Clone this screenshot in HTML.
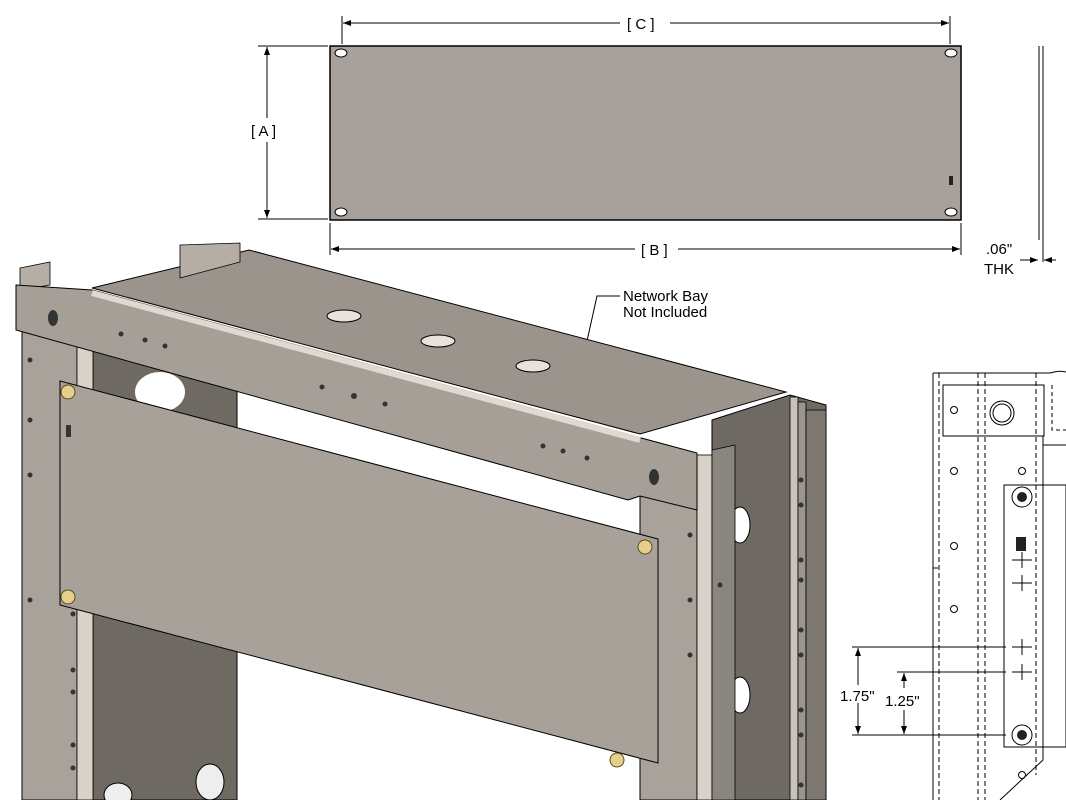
<!DOCTYPE html>
<html><head><meta charset="utf-8"><style>
html,body{margin:0;padding:0;background:#fff;}
svg{display:block;font-family:"Liberation Sans",sans-serif;}
</style></head><body>
<svg width="1066" height="800" viewBox="0 0 1066 800" xmlns="http://www.w3.org/2000/svg">
<defs>
<marker id="ar" markerWidth="8" markerHeight="6" refX="8" refY="3" orient="auto"><path d="M0,0 L8,3 L0,6 z" fill="#000"/></marker>
</defs>
<!-- top flat panel -->
<rect x="330" y="46" width="631" height="174" fill="#a8a09a" stroke="#000" stroke-width="1.5"/>
<g fill="#fff" stroke="#000" stroke-width="1">
<ellipse cx="341" cy="53" rx="6" ry="4"/><ellipse cx="951" cy="53" rx="6" ry="4"/>
<ellipse cx="341" cy="212" rx="6" ry="4"/><ellipse cx="951" cy="212" rx="6" ry="4"/>
</g>
<rect x="949" y="176" width="4" height="9" fill="#222"/>
<!-- dims -->
<g stroke="#000" stroke-width="1" fill="none">
<line x1="342" y1="16" x2="342" y2="44"/><line x1="950" y1="16" x2="950" y2="44"/>
<line x1="620" y1="23" x2="343" y2="23" marker-end="url(#ar)"/><line x1="670" y1="23" x2="949" y2="23" marker-end="url(#ar)"/>
<line x1="258" y1="46" x2="328" y2="46"/><line x1="258" y1="219" x2="328" y2="219"/>
<line x1="267" y1="118" x2="267" y2="47" marker-end="url(#ar)"/><line x1="267" y1="142" x2="267" y2="218" marker-end="url(#ar)"/>
<line x1="330" y1="223" x2="330" y2="255"/><line x1="961" y1="223" x2="961" y2="255"/>
<line x1="635" y1="249" x2="331" y2="249" marker-end="url(#ar)"/><line x1="678" y1="249" x2="960" y2="249" marker-end="url(#ar)"/>
<line x1="1039" y1="46" x2="1039" y2="240"/><line x1="1043" y1="46" x2="1043" y2="262"/>
<line x1="1020" y1="260" x2="1038" y2="260" marker-end="url(#ar)"/><line x1="1056" y1="260" x2="1044" y2="260" marker-end="url(#ar)"/>
</g>
<g font-size="15" fill="#000">
<text x="627" y="29">[ C ]</text>
<text x="251" y="136">[ A ]</text>
<text x="641" y="255">[ B ]</text>
<text x="986" y="254">.06"</text>
<text x="984" y="274">THK</text>
<text x="623" y="301">Network Bay</text>
<text x="623" y="317">Not Included</text>
</g>
<polyline points="620,296 597,296 585,350" fill="none" stroke="#000"/>
<!-- rack: right side dark panel -->
<polygon points="712,420 790,395 826,405 826,800 712,800" fill="#6e6a63" stroke="#000"/>
<rect x="790" y="397" width="8" height="403" fill="#c9c3ba" stroke="#000" stroke-width="0.8"/>
<rect x="798" y="402" width="8" height="398" fill="#9b958d" stroke="#000" stroke-width="0.8"/>
<rect x="806" y="410" width="20" height="390" fill="#7c776f" stroke="#000" stroke-width="0.8"/>
<ellipse cx="740" cy="525" rx="10" ry="18" fill="#fff" stroke="#000"/>
<ellipse cx="740" cy="695" rx="10" ry="18" fill="#fff" stroke="#000"/>
<!-- left interior dark -->
<polygon points="93,340 237,380 237,800 93,800" fill="#6e6a63" stroke="#000"/>
<ellipse cx="160" cy="392" rx="25" ry="20" fill="#fff"/>
<ellipse cx="210" cy="782" rx="14" ry="18" fill="#eee" stroke="#000"/>
<ellipse cx="118" cy="795" rx="14" ry="12" fill="#eee" stroke="#000"/>
<!-- left post -->
<rect x="22" y="325" width="55" height="475" fill="#a8a29b" stroke="#000"/>
<rect x="77" y="325" width="16" height="475" fill="#d9d2c8" stroke="#000" stroke-width="0.8"/>
<!-- right post -->
<rect x="640" y="480" width="57" height="320" fill="#a8a29b" stroke="#000"/>
<rect x="697" y="455" width="15" height="345" fill="#d9d2c8" stroke="#000" stroke-width="0.8"/>
<polygon points="712,450 735,445 735,800 712,800" fill="#8a857e" stroke="#000" stroke-width="0.8"/>
<!-- top plate -->
<polygon points="92,288 249,250 786,392 640,434" fill="#9b948d" stroke="#000"/>
<polygon points="180,245 240,243 240,262 180,278" fill="#b5aea5" stroke="#000" stroke-width="0.8"/>
<polygon points="20,268 50,262 50,285 20,290" fill="#b5aea5" stroke="#000" stroke-width="0.8"/>
<g fill="#e8e2da" stroke="#000"><ellipse cx="344" cy="316" rx="17" ry="6"/><ellipse cx="438" cy="341" rx="17" ry="6"/><ellipse cx="533" cy="366" rx="17" ry="6"/></g>
<!-- top beam -->
<polygon points="16,285 92,290 697,453 697,510 640,496 628,500 16,330" fill="#a59f97" stroke="#000"/>
<line x1="92" y1="293" x2="640" y2="440" stroke="#e0d9cf" stroke-width="6"/>
<g fill="#333"><ellipse cx="53" cy="318" rx="5" ry="8"/><ellipse cx="654" cy="477" rx="5" ry="8"/>
<circle cx="121" cy="334" r="2.5"/><circle cx="145" cy="340" r="2.5"/><circle cx="165" cy="346" r="2.5"/>
<circle cx="322" cy="387" r="2.5"/><circle cx="354" cy="396" r="3"/><circle cx="385" cy="404" r="2.5"/>
<circle cx="543" cy="446" r="2.5"/><circle cx="563" cy="451" r="2.5"/><circle cx="587" cy="458" r="2.5"/></g>
<!-- post holes -->
<g fill="#333">
<circle cx="30" cy="360" r="2.5"/><circle cx="30" cy="420" r="2.5"/><circle cx="30" cy="475" r="2.5"/><circle cx="30" cy="600" r="2.5"/>
<circle cx="73" cy="614" r="2.5"/><circle cx="73" cy="670" r="2.5"/><circle cx="73" cy="692" r="2.5"/><circle cx="73" cy="745" r="2.5"/><circle cx="73" cy="768" r="2.5"/>
<circle cx="690" cy="535" r="2.5"/><circle cx="690" cy="600" r="2.5"/><circle cx="690" cy="655" r="2.5"/><circle cx="720" cy="585" r="2.5"/>
<circle cx="801" cy="480" r="2.5"/><circle cx="801" cy="505" r="2.5"/><circle cx="801" cy="560" r="2.5"/><circle cx="801" cy="580" r="2.5"/><circle cx="801" cy="630" r="2.5"/><circle cx="801" cy="655" r="2.5"/><circle cx="801" cy="710" r="2.5"/><circle cx="801" cy="735" r="2.5"/><circle cx="801" cy="785" r="2.5"/>
</g>
<!-- front panel -->
<polygon points="60,381 658,539 658,763 60,605" fill="#a8a199" stroke="#000"/>
<rect x="66" y="425" width="5" height="12" fill="#333"/>
<g fill="#e6cf8a" stroke="#5a4a20" stroke-width="1">
<circle cx="68" cy="392" r="7"/><circle cx="68" cy="597" r="7"/><circle cx="645" cy="547" r="7"/><circle cx="617" cy="760" r="7"/>
</g>
<!-- right detail drawing -->
<g stroke="#000" stroke-width="1" fill="none">
<line x1="933" y1="373" x2="933" y2="800"/>
<line x1="939" y1="373" x2="939" y2="800" stroke-dasharray="5,3"/>
<line x1="978" y1="373" x2="978" y2="800" stroke-dasharray="5,3"/>
<line x1="985" y1="373" x2="985" y2="800" stroke-dasharray="5,3"/>
<line x1="1036" y1="373" x2="1036" y2="775" stroke-dasharray="5,3"/>
<line x1="1043" y1="440" x2="1043" y2="760"/>
<line x1="933" y1="373" x2="1050" y2="373"/>
<rect x="943" y="385" width="101" height="51"/>
<path d="M1043,436 L1043,445 L1066,445"/>
<path d="M1050,373 Q1060,370 1066,372"/>
<path d="M1052,385 L1052,430 L1066,430" stroke-dasharray="4,3"/>
<circle cx="1002" cy="413" r="12"/><circle cx="1002" cy="413" r="9"/>
<circle cx="954" cy="410" r="3.5"/><circle cx="954" cy="471" r="3.5"/><circle cx="954" cy="546" r="3.5"/><circle cx="954" cy="609" r="3.5"/>
<circle cx="1022" cy="471" r="3.5"/><circle cx="1022" cy="775" r="3.5"/>
<rect x="1004" y="485" width="62" height="262"/>
<circle cx="1022" cy="497" r="10"/><circle cx="1022" cy="735" r="10"/>
<path d="M1012,560h20M1022,552v16M1012,583h20M1022,575v16M1012,647h20M1022,639v16M1012,672h20M1022,664v16"/>
<line x1="1043" y1="760" x2="1000" y2="800"/>
<line x1="852" y1="647" x2="1006" y2="647"/><line x1="897" y1="672" x2="1006" y2="672"/><line x1="852" y1="735" x2="1006" y2="735"/>
<line x1="858" y1="685" x2="858" y2="648" marker-end="url(#ar)"/><line x1="858" y1="703" x2="858" y2="734" marker-end="url(#ar)"/>
<line x1="904" y1="688" x2="904" y2="673" marker-end="url(#ar)"/><line x1="904" y1="710" x2="904" y2="734" marker-end="url(#ar)"/>
<line x1="933" y1="568" x2="938" y2="568"/>
</g>
<g fill="#222"><circle cx="1022" cy="497" r="5"/><circle cx="1022" cy="735" r="5"/><rect x="1016" y="537" width="10" height="14"/></g>
<g font-size="15" fill="#000"><text x="840" y="701">1.75"</text><text x="885" y="706">1.25"</text></g>
</svg>
</body></html>
